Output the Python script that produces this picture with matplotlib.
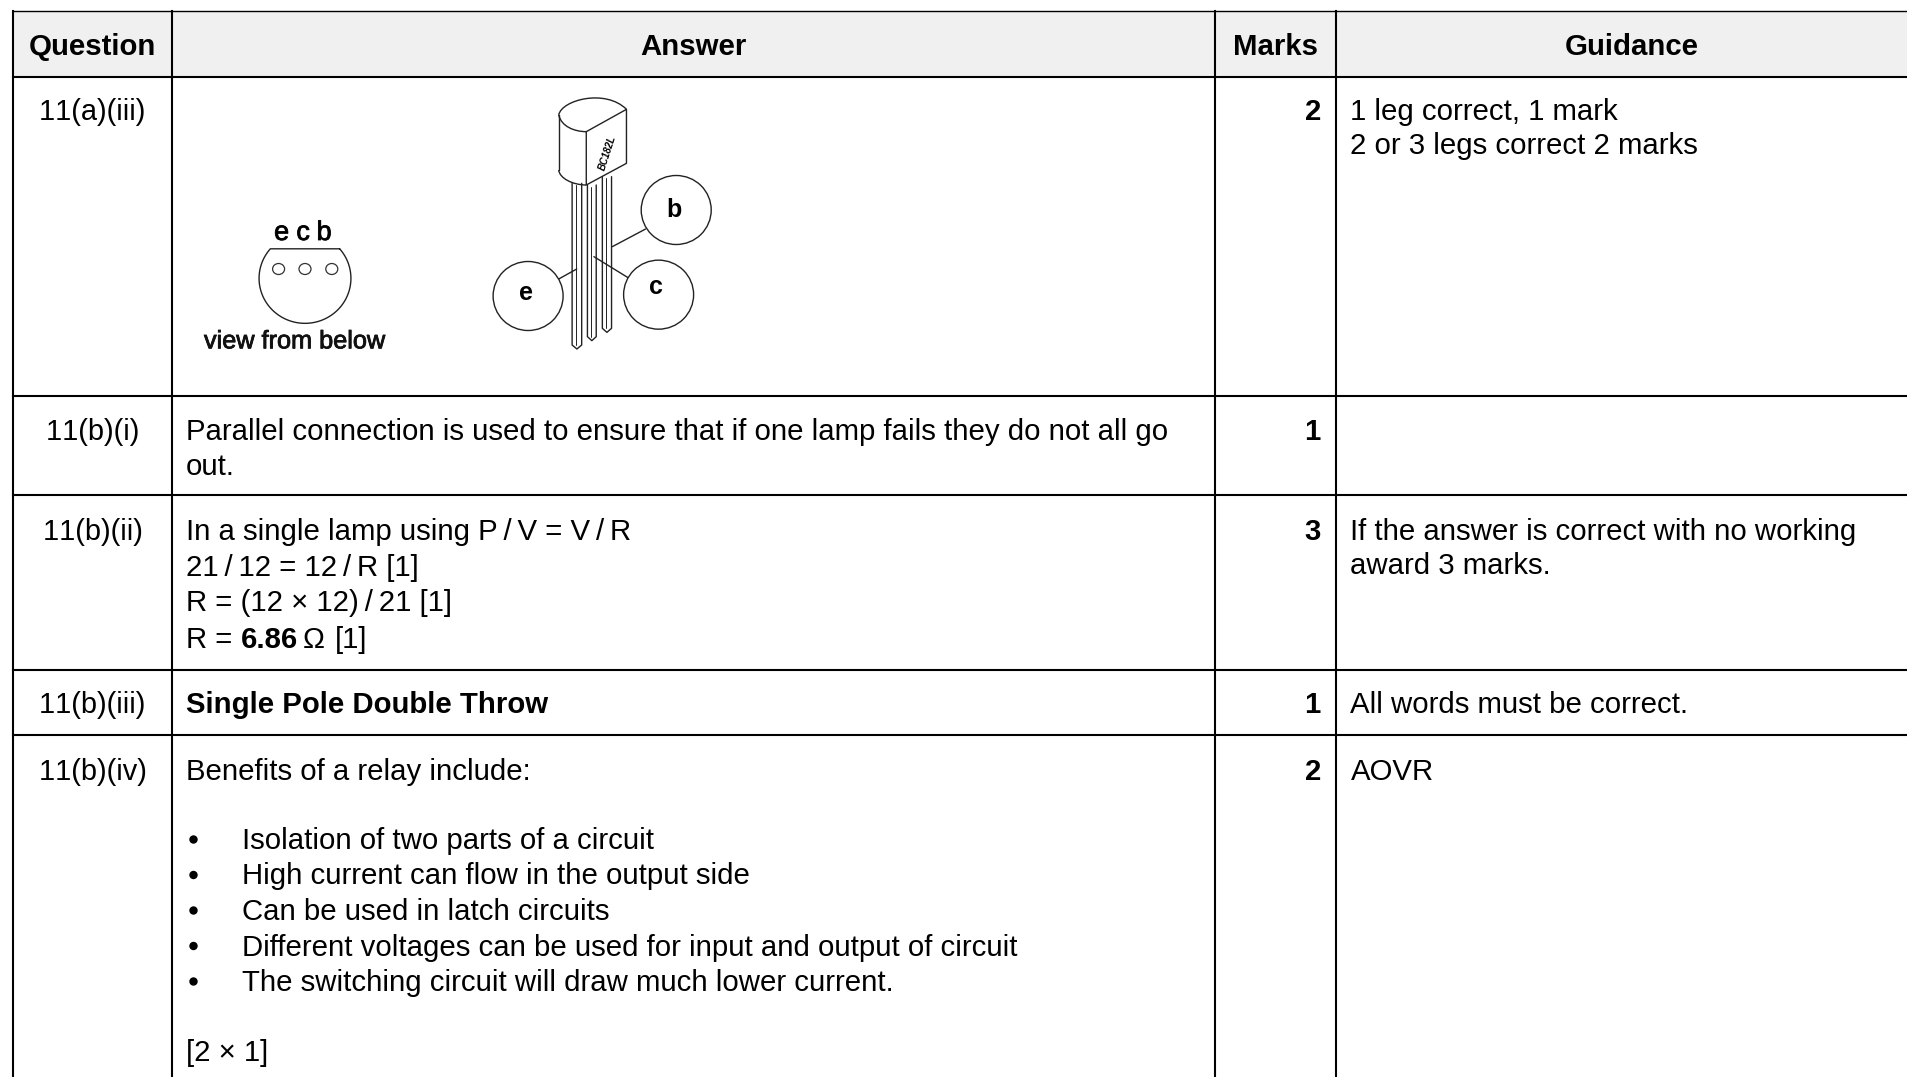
import numpy as np
import matplotlib
matplotlib.use('Agg')
import matplotlib.pyplot as plt
import matplotlib.patheffects as pe
from matplotlib.patches import Ellipse, PathPatch, Rectangle, Circle
from matplotlib.path import Path

plt.rcParams['font.family'] = ['Liberation Sans', 'DejaVu Sans']

headers = ['Question', 'Answer', 'Marks', 'Guidance']
# zero width space stops the font kerning the two ones together
questions = ['1\u200b1(a)(iii)', '1\u200b1(b)(i)', '1\u200b1(b)(ii)', '1\u200b1(b)(iii)', '1\u200b1(b)(iv)']
marks = ['2', '1', '3', '1', '2']
guidance_a = ['1 leg correct, 1 mark', '2 or 3 legs correct 2 marks']
answer_bi = ['Parallel connection is used to ensure that if one lamp fails they do not all go', 'out.']
answer_bii = ['In a single lamp using P\u2009/\u2009V = V\u2009/\u2009R', '21\u2009/\u200912 = 12\u2009/\u2009R [1]', 'R = (12 \u00d7 12)\u2009/\u200921 [1]']
guidance_bii = ['If the answer is correct with no working', 'award 3 marks.']
answer_biii = 'Single Pole Double Throw'
guidance_biii = 'All words must be correct.'
answer_biv = 'Benefits of a relay include:'
guidance_biv = 'AOVR'
bullets = ['Isolation of two parts of a circuit', 'High current can flow in the output side', 'Can be used in latch circuits',
           'Different voltages can be used for input and output of circuit', 'The switching circuit will draw much lower current.']
footer_biv = '[2 \u00d7 1]'

col_edges = [13, 172, 1215, 1336]
row_edges = [77, 396, 495, 670, 735]

fig = plt.figure(figsize=(19.08, 10.77), dpi=100)
ax = fig.add_axes([0, 0, 1, 1])
ax.set_xlim(0, 1908)
ax.set_ylim(1077, 0)
ax.axis('off')

FS = 21.2
LW = 1.5


def put(x, y, s, **kw):
    kw.setdefault('fontsize', FS)
    kw.setdefault('va', 'baseline')
    kw.setdefault('color', '#000000')
    return ax.text(x, y, s, **kw)


# table
ax.add_patch(Rectangle((13, 11), 1895, 66, fc='#f0f0f0', ec='none', zorder=0))
ax.plot([13, 1908], [11, 11], color='k', lw=1.0)
for r in row_edges:
    ax.plot([13, 1908], [r, r], color='k', lw=LW)
for c in col_edges:
    ax.plot([c, c], [11, 1077], color='k', lw=LW)

for x, h in zip([92.5, 693.5, 1276, 1632], headers):
    put(x, 55, h, ha='center', fontweight='bold')

for y, q in zip([120, 440, 540, 713, 780], questions):
    put(92.5, y, q, ha='center', fontsize=20.9)
for y, m in zip([120, 440, 540, 713, 780], marks):
    put(1321, y, m, ha='right', fontweight='bold')

TX = 186
GX = 1350.5
for i, s in enumerate(guidance_a):
    put(GX, 120 + i * 34, s)
for i, s in enumerate(answer_bi):
    put(TX, 440 + i * 34.6, s)
for i, s in enumerate(answer_bii):
    put(TX, 540 + i * 35.6, s)
put(TX, 647.5, 'R =')
put(240.5, 647.5, '6.86', fontweight='bold')
put(302.5, 647.5, '\u03a9')
put(335, 647.5, '[1]')
for i, s in enumerate(guidance_bii):
    put(GX, 539.5 + i * 34.6, s)
put(TX, 713, answer_biii, fontweight='bold')
put(GX, 713, guidance_biii)
put(TX, 780, answer_biv)
put(GX, 780, guidance_biv)
for y, s in zip([849, 884.5, 920, 955.5, 991], bullets):
    put(242, y, s)
    ax.add_patch(Circle((193.5, y - 9.5), 4.2, fc='k', ec='none'))
put(TX, 1061, footer_biv)


def z(x, y):
    return 150 + x / 2.613, 80 + y / 3


def poly(pts, lw=1.0):
    p = [z(*q) for q in pts]
    ax.plot([a[0] for a in p], [a[1] for a in p], color='#222222', lw=lw, solid_capstyle='round')


def curve(p0, c1, c2, p1, lw=1.0):
    verts = [z(*p0), z(*c1), z(*c2), z(*p1)]
    ax.add_patch(PathPatch(Path(verts, [Path.MOVETO, Path.CURVE4, Path.CURVE4, Path.CURVE4]),
                           fc='none', ec='#222222', lw=lw))


heavy = [pe.withStroke(linewidth=0.6, foreground='#111111')]

# view from below
t = np.radians(np.linspace(-41, 221, 120))
outline = list(zip(405 + 120 * np.cos(t), 595 + 135 * np.sin(t)))
poly(outline + [outline[0]])
for zx in [336, 405, 475]:
    ax.add_patch(Ellipse(z(zx, 567), 12, 11, fc='none', ec='#333333', lw=0.9))
for zx, ch in zip([344, 400, 455], 'ecb'):
    put(*z(zx, 480), ch, ha='center', fontsize=19.5, path_effects=heavy)
put(*z(378, 805), 'view from below', ha='center', fontsize=18.2, color='#111111', path_effects=heavy)

# transistor legs, with rounded tips
for xl, xr, top, bot in [(1103, 1128, 310, 795), (1143, 1166, 315, 770), (1182, 1206, 290, 745)]:
    mid = (xl + xr) / 2
    poly([(xl, top), (xl, bot), (mid, bot + 12), (xr, bot), (xr, top)])
    poly([(mid - 3, top + 5), (mid - 3, bot)], lw=0.7)

# transistor body
curve((1068, 105), (1075, 60), (1190, 25), (1245, 88))
curve((1068, 105), (1075, 140), (1110, 155), (1140, 155))
poly([(1140, 155), (1245, 88), (1245, 250), (1140, 315), (1140, 155)])
poly([(1068, 105), (1068, 270)])
curve((1068, 270), (1070, 295), (1105, 315), (1140, 315))
put(*z(1195, 218), 'BC182L', fontsize=7, fontweight='bold', style='italic', rotation=72, ha='center', va='center')

# lead labels
for cx, cy, lx, ly, ch in [(1375, 390, 1370, 390, 'b'), (988, 648, 983, 640, 'e'), (1329, 644, 1322, 620, 'c')]:
    ax.add_patch(Ellipse(z(cx, cy), 70, 69, fc='white', ec='#222222', lw=1.0, zorder=3))
    put(*z(lx, ly), ch, ha='center', va='center', fontsize=18, fontweight='bold', zorder=4)
poly([(1295, 447), (1208, 500)])
poly([(1068, 597), (1115, 567)])
poly([(1160, 530), (1252, 595)])

fig.savefig('out.png', dpi=100)
